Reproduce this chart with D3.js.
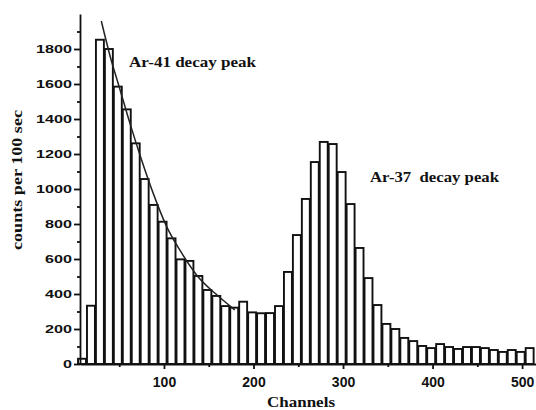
<!DOCTYPE html>
<html>
<head>
<meta charset="utf-8">
<script src="https://cdn.jsdelivr.net/npm/d3@7"></script>
<style>
  body { margin: 0; background: #fff; }
  svg { display: block; }
  .ann { font-family: "Liberation Serif", "Times New Roman", serif; font-weight: bold; fill: #111; white-space: pre; }
  .tick text { font-family: "Liberation Sans", Arial, sans-serif; font-weight: bold; fill: #111; }
</style>
</head>
<body>
<svg id="chart" width="536" height="410"></svg>
<script>
// bin left edge (channel) and counts per bin
var channels = [4, 14, 24, 34, 44, 54, 64, 74, 84, 94,
                104, 114, 124, 134, 144, 154, 164, 174, 184, 194,
                204, 214, 224, 234, 244, 254, 264, 274, 284, 294,
                304, 314, 324, 334, 344, 354, 364, 374, 384, 394,
                404, 414, 424, 434, 444, 454, 464, 474, 484, 494, 504];
var counts = [30, 333, 1853, 1800, 1585, 1455, 1261, 1057, 909, 813,
              718, 598, 589, 503, 423, 389, 331, 322, 356, 295,
              290, 291, 331, 526, 737, 943, 1154, 1269, 1257, 1097,
              914, 663, 491, 337, 229, 200, 149, 131, 103, 91,
              114, 97, 86, 97, 97, 91, 80, 69, 80, 69, 91];
var binWidth = 10;

// fitted decay curve over the Ar-41 peak
var fitChannels = [30, 40, 51, 62, 75, 88, 103, 120, 138, 157, 176, 179];
var fitCounts = [1960, 1756, 1566, 1375, 1166, 975, 785, 632, 499, 404, 322, 309];

var yTicks = [0, 200, 400, 600, 800, 1000, 1200, 1400, 1600, 1800];
var yMinor = [100, 300, 500, 700, 900, 1100, 1300, 1500, 1700, 1900];
var xTicks = [100, 200, 300, 400, 500];
var xMinor = [50, 150, 250, 350, 450];

var svg = d3.select("#chart");

var x = d3.scaleLinear().domain([6.2, 520]).range([80, 540]);
var y = d3.scaleLinear().domain([0, 2000]).range([364, 14]);

// bars
svg.append("g").attr("class", "bars")
    .selectAll("rect")
    .data(channels)
    .enter().append("rect")
    .attr("x", function (d) { return x(d); })
    .attr("width", function (d) { return x(d + binWidth) - x(d) - 1; })
    .attr("y", function (d, i) { return y(counts[i]); })
    .attr("height", function (d, i) { return y(0) - y(counts[i]); })
    .attr("fill", "#fff")
    .attr("stroke", "#111")
    .attr("stroke-width", 1.9);

// fit line
var fitLine = d3.line()
    .x(function (d, i) { return x(d); })
    .y(function (d, i) { return y(fitCounts[i]); })
    .curve(d3.curveMonotoneX);

svg.append("path")
    .datum(fitChannels)
    .attr("d", fitLine)
    .attr("fill", "none")
    .attr("stroke", "#222")
    .attr("stroke-width", 1.5);

// axes
var xAxis = svg.append("g")
    .attr("class", "x axis")
    .attr("transform", "translate(0," + y(0) + ")")
    .call(d3.axisBottom(x).tickValues(xTicks).tickSize(5).tickSizeOuter(0).tickPadding(8));
xAxis.selectAll("text").style("font-size", "14px");

svg.append("g")
    .attr("class", "x minor")
    .attr("transform", "translate(0," + y(0) + ")")
    .call(d3.axisBottom(x).tickValues(xMinor).tickSize(3).tickFormat(""))
    .select(".domain").remove();

var yAxis = svg.append("g")
    .attr("class", "y axis")
    .attr("transform", "translate(" + x(6.2) + ",0)")
    .call(d3.axisLeft(y).tickValues(yTicks).tickFormat(d3.format("d"))
        .tickSize(6).tickSizeOuter(0).tickPadding(2));
yAxis.selectAll("text")
    .style("font-size", "11.5px")
    .attr("textLength", function (d) { return String(d).length * 9; })
    .attr("lengthAdjust", "spacingAndGlyphs");

svg.append("g")
    .attr("class", "y minor")
    .attr("transform", "translate(" + x(6.2) + ",0)")
    .call(d3.axisLeft(y).tickValues(yMinor).tickSize(3).tickFormat(""))
    .select(".domain").remove();

svg.selectAll(".axis .domain, .tick line")
    .attr("stroke", "#111")
    .attr("stroke-width", 1.8);

// annotations
svg.append("text").attr("class", "ann")
    .attr("x", 129).attr("y", 67)
    .style("font-size", "15px")
    .attr("textLength", 127).attr("lengthAdjust", "spacingAndGlyphs")
    .text("Ar-41 decay peak");

svg.append("text").attr("class", "ann")
    .attr("x", 370).attr("y", 182)
    .style("font-size", "15px")
    .attr("textLength", 129).attr("lengthAdjust", "spacingAndGlyphs")
    .text("Ar-37  decay peak");

svg.append("text").attr("class", "ann")
    .attr("x", 301).attr("y", 407)
    .attr("text-anchor", "middle")
    .style("font-size", "15px")
    .attr("textLength", 68).attr("lengthAdjust", "spacingAndGlyphs")
    .text("Channels");

svg.append("text").attr("class", "ann")
    .attr("transform", "translate(22,180) rotate(-90)")
    .attr("text-anchor", "middle")
    .style("font-size", "15px")
    .attr("textLength", 140).attr("lengthAdjust", "spacingAndGlyphs")
    .text("counts per 100 sec");
</script>
</body>
</html>
